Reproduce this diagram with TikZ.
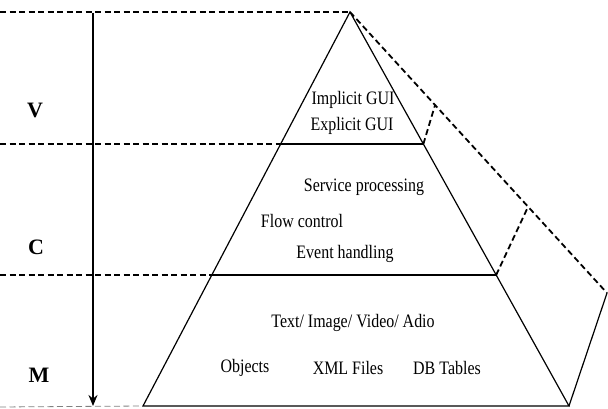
\documentclass[tikz,border=0pt]{standalone}
\usepackage{fontspec}
\setmainfont{Liberation Serif}
\usetikzlibrary{calc,arrows.meta}
\newcommand{\sq}[1]{\scalebox{0.84}[1]{#1}}
\tikzset{
  solidline/.style={line width=1.2pt, black},
  dashline/.style={line width=1.8pt, black, dash pattern=on 6pt off 3.5pt},
  txt/.style={inner sep=0pt, font=\fontsize{19}{21}\selectfont},
  lbl/.style={inner sep=0pt, font=\bfseries\fontsize{22}{25}\selectfont},
}
\begin{document}
\begin{tikzpicture}[x=1pt,y=1pt]
\useasboundingbox (0,0) rectangle (608,409);
% key points
\coordinate (A) at (350,397);
\coordinate (BL) at (143,3);
\coordinate (BR) at (569,3);
\coordinate (F) at (607,116);
\coordinate (VCl) at ($(A)!0.335!(BL)$);
\coordinate (VCr) at ($(A)!0.335!(BR)$);
\coordinate (CMl) at ($(A)!0.6675!(BL)$);
\coordinate (CMr) at ($(A)!0.6675!(BR)$);
\coordinate (P1) at ($(A)!0.331!(F)$);
\coordinate (P2) at ($(A)!0.693!(F)$);
\coordinate (T0) at (0,397);
\coordinate (VC0) at (0,0|-VCl);
\coordinate (CM0) at (0,0|-CMl);
\coordinate (B0) at (0,2);
\coordinate (AT) at (93,396);
\coordinate (AB) at (93,3);
% pyramid
\draw[solidline] (A) -- (BL) -- (BR) -- cycle;
\draw[solidline] (VCl) -- (VCr);
\draw[solidline] (CMl) -- (CMr);
\draw[solidline] (BR) -- (F);
% dashed
\draw[dashline] (T0) -- (A);
\draw[dashline] (VC0) -- (VCl);
\draw[dashline] (CM0) -- (CMl);
\draw[dashline, line width=0.8pt, gray] (B0) -- (BL);
\draw[dashline] (A) -- (F);
\draw[dashline] (VCr) -- (P1);
\draw[dashline] (CMr) -- (P2);
% arrow
\draw[line width=2.5pt, -{Stealth[length=11pt,width=9pt]}] (AT) -- (AB);
% labels
\node[lbl] (V) at (35,299) {V};
\node[lbl] (C) at (36,162) {C};
\node[lbl] (M) at (39,34) {M};
% texts
\node[txt] (impl) at (353,309) {\sq{Implicit GUI}};
\node[txt] (expl) at (352,283) {\sq{Explicit GUI}};
\node[txt] (serv) at (364,222) {\sq{Service processing}};
\node[txt] (flow) at (302,188) {\sq{Flow control}};
\node[txt] (evnt) at (345,155) {\sq{Event handling}};
\node[txt] (media) at (353,86) {\sq{Text/ Image/ Video/ Adio}};
\node[txt] (obj) at (245,41) {\sq{Objects}};
\node[txt] (xml) at (348,41) {\sq{XML Files}};
\node[txt] (db) at (447,41) {\sq{DB Tables}};
\end{tikzpicture}
\end{document}
